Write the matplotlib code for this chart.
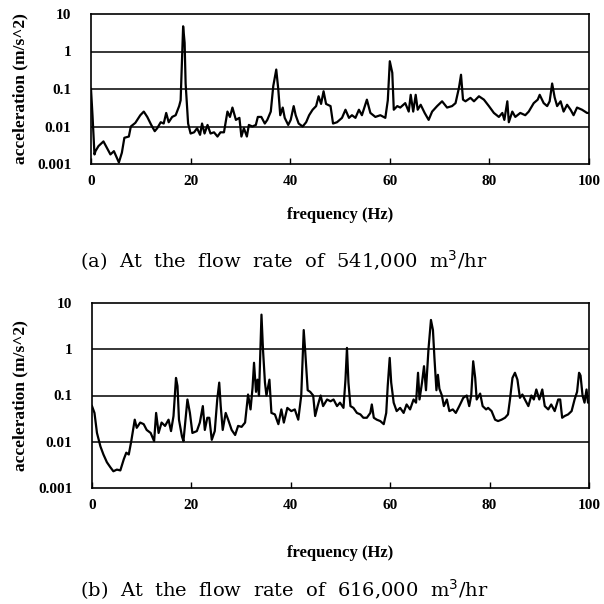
import matplotlib
matplotlib.use("Agg")
import matplotlib.pyplot as plt
import numpy as np

# (a) 541,000 m3/hr
freq_a = [0, 0.3, 0.7, 0.9, 1.5, 2.5, 3.2, 3.9, 4.6, 5.6, 6.2, 6.7, 7.6, 8.0, 8.9, 9.9, 10.6, 11.3, 12.1,
          12.8, 13.3, 14.0, 14.6, 15.1, 15.6, 16.3, 17.0, 17.7, 18.0, 18.5, 18.8, 19.0, 19.5, 20.0, 20.7,
          21.3, 21.9, 22.3, 22.8, 23.4, 24.0, 24.7, 25.4, 26.0, 26.7, 27.4, 27.9, 28.4, 29.1, 29.8, 30.2,
          30.7, 31.3, 31.7, 32.4, 33.1, 33.5, 34.2, 34.9, 35.4, 36.1, 36.6, 37.2, 37.6, 38.0, 38.5, 38.9,
          39.6, 40.1, 40.7, 41.1, 41.7, 42.5, 43.2, 43.8, 44.5, 45.2, 45.7, 46.2, 46.7, 47.2, 48.1, 48.6,
          49.4, 50.4, 51.1, 51.8, 52.4, 53.1, 53.8, 54.4, 55.4, 56.1, 57.1, 58.1, 59.1, 59.6, 60.0, 60.5,
          60.8, 61.5, 62.1, 63.1, 63.8, 64.2, 64.7, 65.2, 65.6, 66.2, 67.0, 67.8, 68.5, 69.5, 70.5, 71.5,
          72.5, 73.2, 73.9, 74.3, 74.7, 75.2, 76.2, 76.9, 77.9, 78.9, 79.9, 80.9, 81.9, 82.6, 83.0, 83.6,
          83.9, 84.6, 85.2, 86.2, 87.2, 87.9, 88.9, 89.7, 90.1, 90.9, 91.6, 92.1, 92.6, 93.1, 93.6, 94.3,
          94.9, 95.6, 96.3, 96.9, 97.6, 98.6, 99.6, 100]
accel_a = [0.1, 0.02, 0.0018, 0.0022, 0.003, 0.004, 0.0027, 0.0018, 0.0022, 0.0011, 0.002, 0.005, 0.0054,
           0.01, 0.0125, 0.02, 0.025, 0.018, 0.011, 0.0075, 0.009, 0.013, 0.012, 0.023, 0.013, 0.018, 0.02,
           0.035, 0.05, 4.7, 1.7, 0.14, 0.012, 0.0065, 0.007, 0.009, 0.006, 0.012, 0.0065, 0.011, 0.0065,
           0.007, 0.0054, 0.007, 0.007, 0.025, 0.018, 0.032, 0.015, 0.017, 0.0054, 0.009, 0.0054, 0.011,
           0.01, 0.011, 0.018, 0.018, 0.012, 0.015, 0.025, 0.12, 0.33, 0.1, 0.02, 0.032, 0.017, 0.011,
           0.015, 0.035, 0.02, 0.012, 0.01, 0.013, 0.02, 0.028, 0.035, 0.064, 0.04, 0.087, 0.04, 0.035,
           0.012, 0.013, 0.017, 0.028, 0.017, 0.02, 0.017, 0.028, 0.02, 0.052, 0.023, 0.018, 0.02, 0.017,
           0.05, 0.55, 0.27, 0.028, 0.035, 0.032, 0.042, 0.025, 0.07, 0.025, 0.07, 0.028, 0.038, 0.023,
           0.015, 0.025, 0.035, 0.047, 0.032, 0.035, 0.042, 0.11, 0.24, 0.052, 0.047, 0.058, 0.047, 0.064,
           0.052, 0.035, 0.023, 0.018, 0.023, 0.015, 0.047, 0.013, 0.025, 0.018, 0.023, 0.02, 0.025, 0.042,
           0.052, 0.07, 0.042, 0.035, 0.047, 0.14, 0.06, 0.035, 0.047, 0.025, 0.038, 0.028, 0.02, 0.032,
           0.028, 0.023, 0.023]

# (b) 616,000 m3/hr
freq_b = [0, 0.5, 1.0, 1.7, 2.3, 3.0, 3.7, 4.3, 5.0, 5.7, 6.4, 6.9, 7.4, 7.9, 8.6, 9.0, 9.7, 10.4, 11.0,
          11.8, 12.5, 12.9, 13.4, 14.0, 14.7, 15.4, 15.9, 16.4, 16.9, 17.2, 17.5, 18.1, 18.4, 18.7, 19.2,
          19.7, 20.2, 21.1, 21.7, 22.3, 22.7, 23.2, 23.6, 24.1, 24.7, 25.2, 25.6, 25.9, 26.3, 26.9, 27.4,
          28.1, 28.8, 29.4, 30.1, 30.8, 31.4, 31.9, 32.3, 32.6, 33.0, 33.3, 33.6, 34.1, 34.4, 34.8, 35.1,
          35.7, 36.1, 36.8, 37.5, 38.1, 38.6, 39.3, 40.1, 40.8, 41.5, 42.1, 42.6, 42.9, 43.4, 43.9, 44.5,
          44.9, 45.4, 46.0, 46.5, 47.3, 48.0, 48.6, 49.3, 49.9, 50.6, 51.0, 51.3, 51.6, 52.0, 52.6, 53.3,
          54.0, 54.6, 55.3, 56.0, 56.3, 56.7, 57.3, 58.0, 58.7, 59.2, 59.5, 59.9, 60.2, 60.7, 61.3, 62.0,
          62.7, 63.3, 64.0, 64.7, 65.2, 65.6, 65.9, 66.4, 66.8, 67.2, 67.7, 68.2, 68.6, 68.9, 69.3, 69.6,
          69.9, 70.4, 70.8, 71.4, 71.9, 72.6, 73.2, 73.9, 74.7, 75.4, 75.9, 76.3, 76.7, 77.1, 77.4, 78.1,
          78.6, 79.3, 79.7, 80.4, 81.1, 81.7, 82.4, 83.1, 83.7, 84.1, 84.6, 85.1, 85.6, 86.1, 86.6, 87.1,
          87.8, 88.4, 88.9, 89.4, 90.0, 90.6, 91.1, 91.8, 92.4, 93.1, 93.8, 94.2, 94.6, 95.1, 95.8, 96.5,
          97.1, 97.6, 98.0, 98.3, 98.7, 99.1, 99.5, 99.8, 100]
accel_b = [0.059, 0.042, 0.0155, 0.0079, 0.0053, 0.0036, 0.0028, 0.0023, 0.0025, 0.0024, 0.0042, 0.0058,
           0.0053, 0.0103, 0.03, 0.02, 0.026, 0.024, 0.018, 0.0155, 0.0103, 0.042, 0.0155, 0.026, 0.022,
           0.03, 0.017, 0.036, 0.24, 0.16, 0.03, 0.013, 0.0103, 0.022, 0.082, 0.042, 0.0155, 0.017, 0.026,
           0.059, 0.018, 0.033, 0.033, 0.011, 0.017, 0.082, 0.19, 0.059, 0.018, 0.042, 0.03, 0.018, 0.014,
           0.022, 0.021, 0.026, 0.105, 0.05, 0.146, 0.51, 0.12, 0.22, 0.1, 5.6, 1.0, 0.19, 0.1, 0.22, 0.042,
           0.039, 0.024, 0.05, 0.026, 0.054, 0.046, 0.05, 0.03, 0.1, 2.6, 0.9, 0.13, 0.12, 0.1, 0.036, 0.059,
           0.1, 0.059, 0.082, 0.075, 0.082, 0.059, 0.07, 0.054, 0.22, 1.07, 0.19, 0.059, 0.054, 0.042,
           0.039, 0.033, 0.033, 0.042, 0.064, 0.033, 0.03, 0.028, 0.024, 0.042, 0.16, 0.65, 0.19, 0.07,
           0.046, 0.054, 0.042, 0.064, 0.05, 0.082, 0.07, 0.31, 0.082, 0.19, 0.43, 0.13, 1.0, 4.3, 2.6, 0.65,
           0.13, 0.28, 0.14, 0.1, 0.059, 0.082, 0.046, 0.05, 0.042, 0.059, 0.089, 0.1, 0.059, 0.1, 0.55,
           0.24, 0.082, 0.11, 0.059, 0.05, 0.054, 0.046, 0.03, 0.028, 0.03, 0.033, 0.039, 0.082, 0.24, 0.31,
           0.22, 0.089, 0.105, 0.082, 0.059, 0.1, 0.082, 0.135, 0.082, 0.135, 0.059, 0.05, 0.064, 0.046,
           0.082, 0.082, 0.033, 0.036, 0.039, 0.046, 0.082, 0.12, 0.31, 0.27, 0.1, 0.07, 0.135, 0.07, 0.07]

x_ticks = [0, 20, 40, 60, 80, 100]
y_ticks = [0.001, 0.01, 0.1, 1, 10]
y_ticklabels = ["0.001", "0.01", "0.1", "1", "10"]
ylabel = "acceleration (m/s^2)"
xlabel = "frequency (Hz)"
captions = ["(a)  At  the  flow  rate  of  541,000  m$^3$/hr",
            "(b)  At  the  flow  rate  of  616,000  m$^3$/hr"]

W = H = 604
fig = plt.figure(figsize=(6.04, 6.04), dpi=100)
serif = "Liberation Serif"

def px(l, t, r, b):
    return [l / W, 1 - b / H, (r - l) / W, (b - t) / H]

axes_boxes = [px(91, 14, 589, 164), px(92, 303, 589, 488)]
data = [(freq_a, accel_a), (freq_b, accel_b)]
xlabel_y = [215, 553]
caption_y = [261, 590]

for i, (box, (f, a)) in enumerate(zip(axes_boxes, data)):
    ax = fig.add_axes(box)
    ax.set_yscale("log")
    ax.set_xlim(0, 100)
    ax.set_ylim(0.001, 10)
    for g in [0.01, 0.1, 1]:
        ax.axhline(g, color="black", lw=1.1, zorder=1)
    ax.plot(f, a, color="black", lw=1.6, zorder=3)
    ax.set_xticks(x_ticks)
    ax.set_xticklabels([str(t) for t in x_ticks], fontfamily=serif, fontweight="bold", fontsize=11)
    ax.set_yticks(y_ticks)
    ax.set_yticklabels(y_ticklabels, fontfamily=serif, fontweight="bold", fontsize=11)
    ax.yaxis.set_minor_locator(matplotlib.ticker.NullLocator())
    ax.tick_params(axis="y", length=0, pad=14)
    ax.tick_params(axis="x", direction="in", length=4, width=1, pad=8)
    for s in ax.spines.values():
        s.set_linewidth(1.2)
    cy = (box[1] + box[3] / 2)
    fig.text(20 / W, cy, ylabel, rotation=90, ha="center", va="center",
             fontfamily=serif, fontweight="bold", fontsize=12.5)
    fig.text(340 / W, 1 - xlabel_y[i] / H, xlabel, ha="center", va="center",
             fontfamily=serif, fontweight="bold", fontsize=12)
    fig.text(284 / W, 1 - caption_y[i] / H, captions[i], ha="center", va="center",
             fontfamily="DejaVu Serif", fontsize=14)

fig.savefig("out.png", dpi=100)
